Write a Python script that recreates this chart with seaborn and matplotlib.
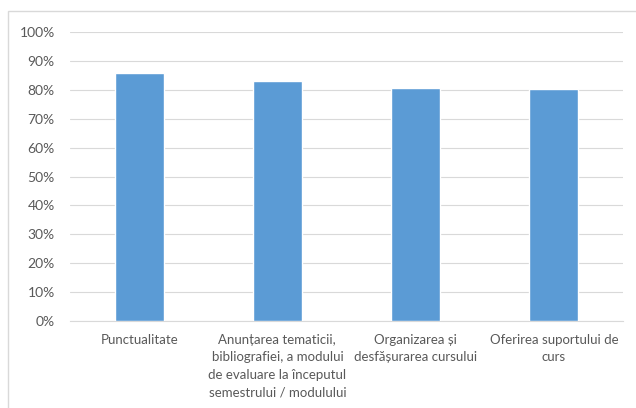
import matplotlib
matplotlib.use("Agg")
import matplotlib.pyplot as plt
import matplotlib.patches as mpatches
from matplotlib.ticker import PercentFormatter
import seaborn as sns
import pandas as pd

categories = [
    "Punctualitate",
    "Anunțarea tematicii,\nbibliografiei, a modului\nde evaluare la începutul\nsemestrului / modulului",
    "Organizarea și\ndesfășurarea cursului",
    "Oferirea suportului de\ncurs",
]
scores = [0.857, 0.832, 0.807, 0.804]
y_ticks = [0.0, 0.1, 0.2, 0.3, 0.4, 0.5, 0.6, 0.7, 0.8, 0.9, 1.0]

df = pd.DataFrame({"category": categories, "score": scores})

sns.set_style("white")
plt.rcParams["font.family"] = ["Lato", "DejaVu Sans"]

fig = plt.figure(figsize=(6.36, 4.08), dpi=100)
ax = fig.add_axes([70 / 636, 1 - 321 / 408, 553 / 636, 289 / 408])

# chart frame like the office export
fig.patches.append(
    mpatches.Rectangle((8 / 636, -0.01), 1.0, 1 - 11 / 408 + 0.01,
                       transform=fig.transFigure, fill=False,
                       edgecolor="#d9d9d9", linewidth=1.0)
)

sns.barplot(data=df, x="category", y="score", color="#5b9bd5",
            saturation=1, width=0.355, ax=ax, zorder=3)

ax.set_ylim(0, 1.0)
ax.set_yticks(y_ticks)
ax.yaxis.set_major_formatter(PercentFormatter(1.0, decimals=0))
ax.grid(axis="y", color="#d9d9d9", linewidth=0.8, zorder=0)
ax.set_axisbelow(True)
for side in ["top", "right", "left"]:
    ax.spines[side].set_visible(False)
ax.spines["bottom"].set_color("#d9d9d9")
ax.spines["bottom"].set_linewidth(0.8)
ax.set_xlabel("")
ax.set_ylabel("")
ax.tick_params(axis="both", length=0, colors="#595959")
ax.tick_params(axis="y", pad=11, labelsize=10)
ax.tick_params(axis="x", pad=9, labelsize=9.5)
for lbl in ax.get_xticklabels():
    lbl.set_linespacing(1.58)
    lbl.set_verticalalignment("top")

fig.savefig("out.png", dpi=100)
